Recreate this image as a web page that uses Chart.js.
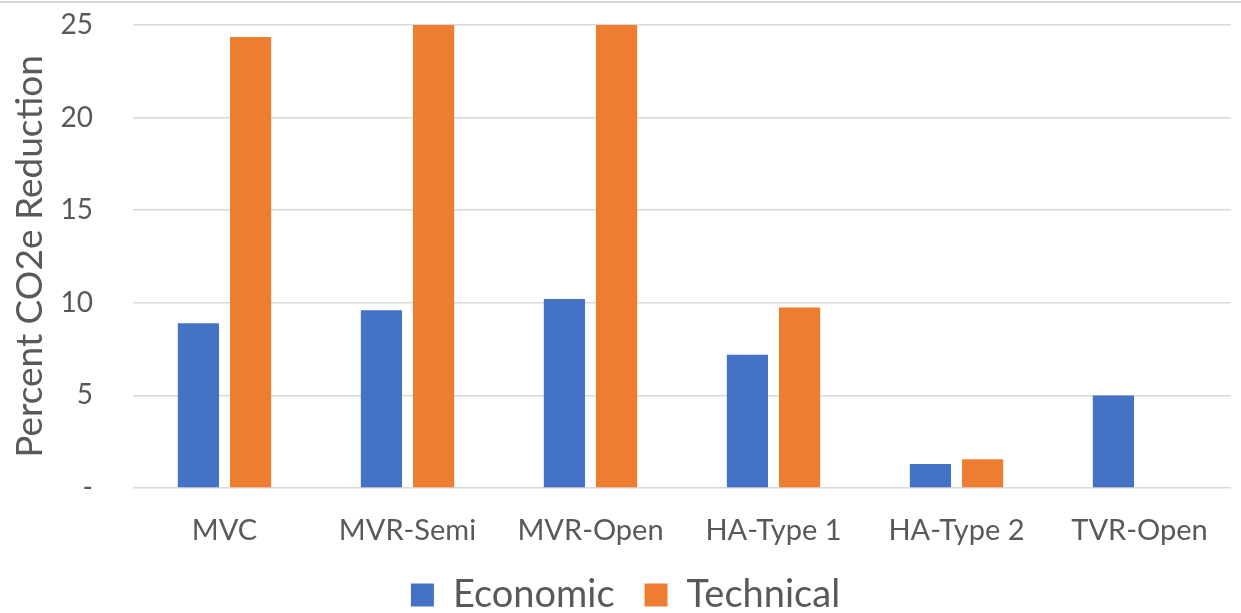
<!DOCTYPE html>
<html>
<head>
<meta charset="utf-8">
<script src="https://cdn.jsdelivr.net/npm/chart.js@4"></script>
<style>
  html, body { margin: 0; padding: 0; background: #fff; }
  #wrap { position: relative; width: 1241px; height: 613px; }
  #wrap:before { content: ""; position: absolute; left: 0; right: 0; top: 1px; height: 2px; background: #d9d9d9; }
</style>
</head>
<body>
<div id="wrap"><canvas id="c" width="1241" height="613"></canvas></div>
<script>
// data
const categories = ['MVC', 'MVR-Semi', 'MVR-Open', 'HA-Type 1', 'HA-Type 2', 'TVR-Open'];
const economic = [8.9, 9.6, 10.2, 7.2, 1.3, 5.0];
const technical = [24.35, 25, 25, 9.75, 1.55, 0];
const yTicks = [0, 5, 10, 15, 20, 25];

const FONT = 'Lato, "Open Sans", sans-serif';
const GREY = '#595959';

// nudge the legend a bit (wide item gap but tight vertical spacing)
const legendShift = {
  id: 'legendShift',
  afterLayout(chart) {
    const lg = chart.legend;
    if (!lg) return;
    lg.top -= 4;
    lg.bottom = chart.height;
    lg.height = lg.bottom - lg.top;
    lg.left += 10; lg.right += 10;
  }
};

new Chart(document.getElementById('c'), {
  type: 'bar',
  data: {
    labels: categories,
    datasets: [
      { label: 'Economic', data: economic, backgroundColor: '#4472c4', borderWidth: 0 },
      { label: 'Technical', data: technical, backgroundColor: '#ed7d31', borderWidth: 0 }
    ]
  },
  plugins: [legendShift],
  options: {
    responsive: false,
    animation: false,
    layout: { padding: { top: 25, right: 10, left: 0, bottom: 0 } },
    datasets: { bar: { categoryPercentage: 0.57, barPercentage: 0.79 } },
    scales: {
      x: {
        grid: { display: false },
        border: { display: false },
        ticks: { color: GREY, font: { family: FONT, size: 29 }, padding: 17 },
        afterFit: (s) => { s.height = 62; s.paddingTop = 0; s.paddingBottom = 0; }
      },
      y: {
        min: 0, max: 25,
        afterBuildTicks: (axis) => { axis.ticks = yTicks.map(v => ({ value: v })); },
        afterFit: (s) => { s.width = 133; s.paddingTop = 0; s.paddingBottom = 0; },
        grid: { color: '#d9d9d9', lineWidth: 1.5, drawTicks: false },
        border: { display: false },
        ticks: {
          color: GREY, font: { family: FONT, size: 28 }, padding: 40,
          callback: (v) => v === 0 ? '-' : v
        },
        title: {
          display: true, text: 'Percent CO2e Reduction',
          color: GREY, font: { family: FONT, size: 37 }, padding: { top: 8, bottom: 0 }
        }
      }
    },
    plugins: {
      tooltip: { enabled: false },
      legend: {
        position: 'bottom',
        maxHeight: 63,
        labels: {
          color: GREY, font: { family: FONT, size: 38 },
          boxWidth: 23, boxHeight: 23, padding: 30
        }
      }
    }
  }
});
</script>
</body>
</html>
